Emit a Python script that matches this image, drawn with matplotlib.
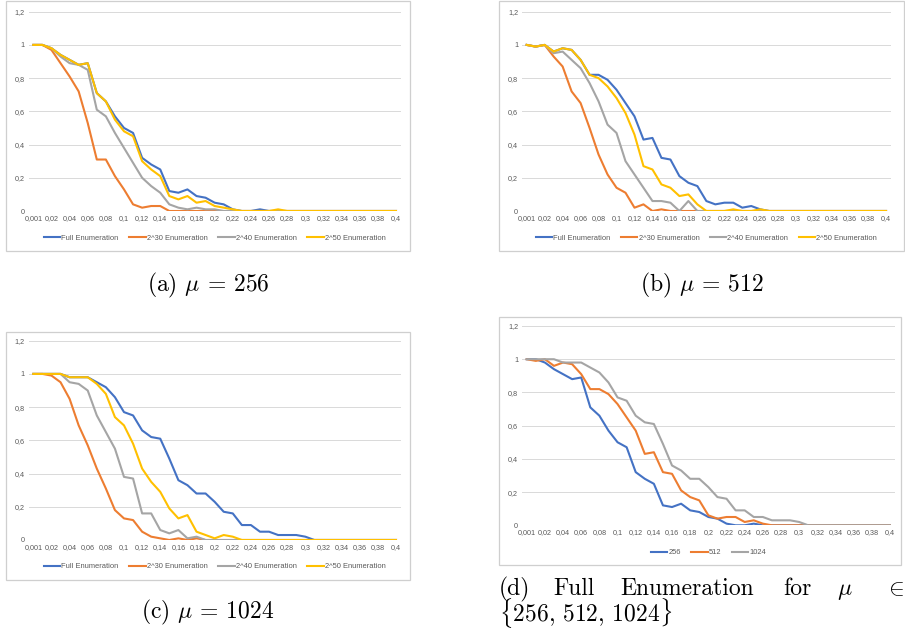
import matplotlib
matplotlib.use("Agg")
import matplotlib.pyplot as plt
from matplotlib.patches import Rectangle

plt.rcParams["mathtext.fontset"] = "cm"

W, H = 905, 638

categories = [0.001, 0.01, 0.02, 0.03, 0.04, 0.05, 0.06, 0.07, 0.08, 0.09, 0.1,
              0.11, 0.12, 0.13, 0.14, 0.15, 0.16, 0.17, 0.18, 0.19, 0.2,
              0.21, 0.22, 0.23, 0.24, 0.25, 0.26, 0.27, 0.28, 0.29, 0.3,
              0.31, 0.32, 0.33, 0.34, 0.35, 0.36, 0.37, 0.38, 0.39, 0.4]
y_ticks = [0, 0.2, 0.4, 0.6, 0.8, 1, 1.2]

# mu = 256
a_full = [1, 1, 0.98, 0.94, 0.91, 0.88, 0.89, 0.71, 0.66, 0.57, 0.50, 0.47, 0.32, 0.28,
          0.25, 0.12, 0.11, 0.13, 0.09, 0.08, 0.05, 0.04, 0.01, 0, 0, 0.01, 0, 0, 0, 0,
          0, 0, 0, 0, 0, 0, 0, 0, 0, 0, 0]
a_2_30 = [1, 1, 0.97, 0.89, 0.81, 0.72, 0.53, 0.31, 0.31, 0.21, 0.13, 0.04, 0.02, 0.03,
          0.03, 0, 0, 0, 0, 0, 0, 0, 0, 0, 0, 0, 0, 0, 0, 0,
          0, 0, 0, 0, 0, 0, 0, 0, 0, 0, 0]
a_2_40 = [1, 1, 0.98, 0.93, 0.89, 0.88, 0.85, 0.61, 0.57, 0.47, 0.38, 0.29, 0.20, 0.15,
          0.11, 0.04, 0.02, 0.01, 0.02, 0.01, 0.01, 0, 0, 0, 0, 0, 0, 0, 0, 0,
          0, 0, 0, 0, 0, 0, 0, 0, 0, 0, 0]
a_2_50 = [1, 1, 0.98, 0.94, 0.91, 0.88, 0.89, 0.71, 0.66, 0.55, 0.48, 0.45, 0.30, 0.25,
          0.21, 0.09, 0.07, 0.09, 0.05, 0.06, 0.03, 0.02, 0.01, 0, 0, 0, 0, 0.01, 0, 0,
          0, 0, 0, 0, 0, 0, 0, 0, 0, 0, 0]

# mu = 512
b_full = [1, 0.99, 1, 0.96, 0.98, 0.97, 0.91, 0.82, 0.82, 0.79, 0.73, 0.65, 0.57, 0.43,
          0.44, 0.32, 0.31, 0.21, 0.17, 0.15, 0.06, 0.04, 0.05, 0.05, 0.02, 0.03, 0.01, 0, 0, 0,
          0, 0, 0, 0, 0, 0, 0, 0, 0, 0, 0]
b_2_30 = [1, 0.99, 1, 0.93, 0.87, 0.72, 0.65, 0.50, 0.34, 0.22, 0.14, 0.11, 0.02, 0.04,
          0, 0.01, 0, 0, 0, 0, 0, 0, 0, 0, 0, 0, 0, 0, 0, 0,
          0, 0, 0, 0, 0, 0, 0, 0, 0, 0, 0]
b_2_40 = [1, 0.99, 1, 0.95, 0.96, 0.91, 0.86, 0.77, 0.66, 0.52, 0.47, 0.30, 0.22, 0.14,
          0.06, 0.06, 0.05, 0, 0.06, 0, 0, 0, 0, 0, 0, 0, 0, 0, 0, 0,
          0, 0, 0, 0, 0, 0, 0, 0, 0, 0, 0]
b_2_50 = [1, 0.99, 1, 0.96, 0.98, 0.97, 0.91, 0.82, 0.80, 0.75, 0.68, 0.59, 0.46, 0.27,
          0.25, 0.16, 0.14, 0.09, 0.10, 0.04, 0, 0, 0, 0.01, 0, 0, 0.01, 0, 0, 0,
          0, 0, 0, 0, 0, 0, 0, 0, 0, 0, 0]

# mu = 1024
c_full = [1, 1, 1, 1, 0.98, 0.98, 0.98, 0.95, 0.92, 0.86, 0.77, 0.75, 0.66, 0.62,
          0.61, 0.49, 0.36, 0.33, 0.28, 0.28, 0.23, 0.17, 0.16, 0.09, 0.09, 0.05, 0.05, 0.03, 0.03, 0.03,
          0.02, 0, 0, 0, 0, 0, 0, 0, 0, 0, 0]
c_2_30 = [1, 1, 0.99, 0.95, 0.85, 0.69, 0.57, 0.43, 0.31, 0.18, 0.13, 0.12, 0.05, 0.02,
          0.01, 0, 0.01, 0, 0.01, 0, 0, 0, 0, 0, 0, 0, 0, 0, 0, 0,
          0, 0, 0, 0, 0, 0, 0, 0, 0, 0, 0]
c_2_40 = [1, 1, 1, 1, 0.95, 0.94, 0.90, 0.75, 0.65, 0.55, 0.38, 0.37, 0.16, 0.16,
          0.06, 0.04, 0.06, 0.01, 0.02, 0, 0, 0, 0, 0, 0, 0, 0, 0, 0, 0,
          0, 0, 0, 0, 0, 0, 0, 0, 0, 0, 0]
c_2_50 = [1, 1, 1, 1, 0.98, 0.98, 0.98, 0.94, 0.88, 0.74, 0.69, 0.58, 0.43, 0.35,
          0.29, 0.19, 0.13, 0.15, 0.05, 0.03, 0.01, 0.03, 0.02, 0, 0, 0, 0, 0, 0, 0,
          0, 0, 0, 0, 0, 0, 0, 0, 0, 0, 0]

enum_labels = ["Full Enumeration", "2^30 Enumeration", "2^40 Enumeration", "2^50 Enumeration"]
mu_labels = ["256", "512", "1024"]
colors = ["#4472C4", "#ED7D31", "#A5A5A5", "#FFC000"]

TICK_FONT = "Liberation Sans"


def fmt(v):
    return str(v).replace(".", ",")


def frame(l, t, r, b):
    fig.add_artist(Rectangle((l / W, 1 - b / H), (r - l) / W, (b - t) / H,
                             transform=fig.transFigure, fill=False,
                             ec="#cfcfcf", lw=0.9))


def chart(l, t, r, b, series, labels, leg_y):
    ax = fig.add_axes([l / W, 1 - b / H, (r - l) / W, (b - t) / H])
    x = list(range(len(categories)))
    for s, lab, c in zip(series, labels, colors):
        ax.plot(x, s, color=c, lw=1.5, label=lab, solid_joinstyle="round")
    ax.set_xlim(-0.5, len(categories) - 0.5)
    ax.set_ylim(0, 1.2)
    ax.set_yticks(y_ticks)
    ax.set_yticklabels([fmt(v) for v in y_ticks])
    ax.set_xticks(x[::2])
    ax.set_xticklabels([fmt(v) for v in categories[::2]])
    ax.grid(axis="y", color="#d9d9d9", lw=0.7)
    ax.set_axisbelow(True)
    for sp in ax.spines.values():
        sp.set_visible(False)
    ax.tick_params(length=0, labelsize=5.2, labelcolor="#595959", pad=3)
    for lbl in ax.get_xticklabels() + ax.get_yticklabels():
        lbl.set_fontfamily(TICK_FONT)
    ax.legend(loc="center", bbox_to_anchor=((l + r) / 2 / W, 1 - leg_y / H),
              bbox_transform=fig.transFigure, ncol=len(series), frameon=False,
              prop={"family": TICK_FONT, "size": 5.4}, handlelength=2.2,
              handletextpad=0.15, columnspacing=1.4, labelcolor="#595959")
    return ax


fig = plt.figure(figsize=(W / 100, H / 100), dpi=100)

frame(5.5, 0.7, 409.7, 251)
frame(499.3, 0.7, 904.3, 251)
frame(5.5, 331.7, 409.7, 580)
frame(499.3, 316.7, 901, 565)

chart(28.8, 11.7, 400.5, 211, [a_full, a_2_30, a_2_40, a_2_50], enum_labels, 238)
chart(522.2, 11.7, 890.5, 211, [b_full, b_2_30, b_2_40, b_2_50], enum_labels, 238)
chart(28.8, 340.7, 400.5, 540, [c_full, c_2_30, c_2_40, c_2_50], enum_labels, 566.5)
chart(522.2, 326, 894.5, 525.3, [a_full, b_full, c_full], mu_labels, 552.5)

cap = dict(fontfamily="cmr10", fontsize=17, color="black")
fig.text(208 / W, 1 - 285 / H, r"(a) $\mu$ = 256", ha="center", va="center", **cap)
fig.text(702 / W, 1 - 285 / H, r"(b) $\mu$ = 512", ha="center", va="center", **cap)
fig.text(208 / W, 1 - 612 / H, r"(c) $\mu$ = 1024", ha="center", va="center", **cap)

# justified caption for (d)
for word, xl in [("(d)", 499), ("Full", 553), ("Enumeration", 620), ("for", 783),
                 (r"$\mu$", 837), (r"$\in$", 884)]:
    fig.text(xl / W, 1 - 595 / H, word, ha="left", va="baseline", **cap)
fig.text(499 / W, 1 - 622 / H, r"$\{256,\,512,\,1024\}$", ha="left", va="baseline", **cap)

fig.savefig("out.png", dpi=100)
